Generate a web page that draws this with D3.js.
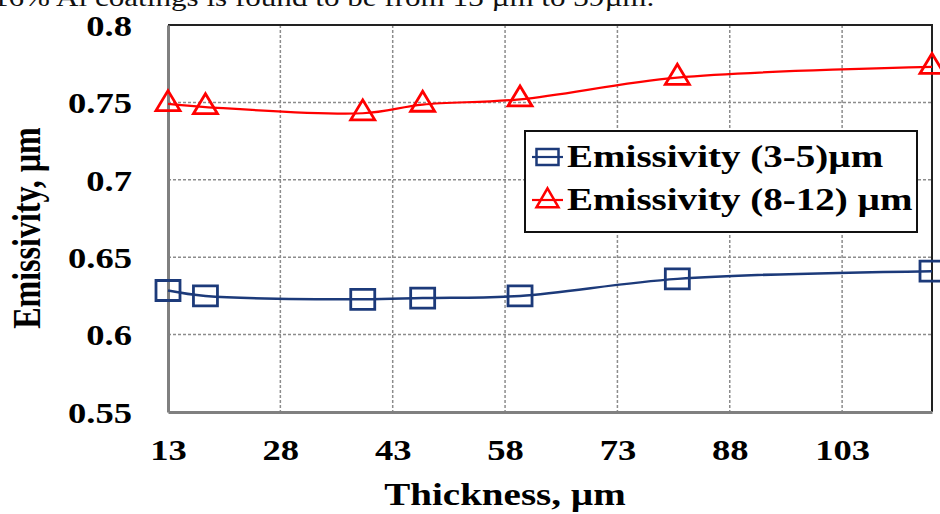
<!DOCTYPE html>
<html>
<head>
<meta charset="utf-8">
<script src="https://cdn.jsdelivr.net/npm/d3@7"></script>
<style>
  html, body { margin: 0; padding: 0; background: #fff; }
  svg { display: block; }
</style>
</head>
<body>
<svg id="chart"></svg>
<script>
var thickness = [13, 18, 39, 47, 60, 81, 115],
  emis35 = [0.6285, 0.625, 0.6228, 0.6236, 0.625, 0.636, 0.641],
  emis812 = [0.749, 0.747, 0.743, 0.7486, 0.752, 0.766, 0.773],
  xTicks = [13, 28, 43, 58, 73, 88, 103],
  yTicks = [0.55, 0.6, 0.65, 0.7, 0.75, 0.8],
  seriesNames = ['Emissivity (3-5)\u00b5m', 'Emissivity (8-12) \u00b5m'];

var width = 940,
  height = 514,
  margin = { top: 25, right: 8, bottom: 102, left: 168 },
  stretch = 1.22, // the picture is widened, text too
  blue = '#1c3a7a',
  red = '#ff0000',
  serif = '"Liberation Serif", "Times New Roman", serif';

var svg = d3.select('#chart').attr('width', width).attr('height', height);

var x = d3.scaleLinear().domain([13, 115]).range([margin.left, width - margin.right]),
  y = d3.scaleLinear().domain([0.55, 0.8]).range([height - margin.bottom, margin.top]);

// cut-off line of body text above the figure
svg.append('text')
  .attr('transform', 'translate(-7, 6) scale(' + stretch + ',1)')
  .attr('font-family', serif)
  .attr('font-size', 25.5)
  .attr('fill', '#111')
  .text('16% Al coatings is found to be from 13 \u00b5m to 39\u00b5m.');

// grid
var grid = svg.append('g')
  .attr('stroke', '#8c8c8c')
  .attr('stroke-width', 1.5)
  .attr('stroke-dasharray', '3,2');

grid.selectAll('line.v')
  .data(xTicks.slice(1))
  .enter()
  .append('line')
  .attr('x1', (d) => x(d)).attr('x2', (d) => x(d))
  .attr('y1', y(0.8)).attr('y2', y(0.55));

grid.selectAll('line.h')
  .data(yTicks.slice(1, -1))
  .enter()
  .append('line')
  .attr('x1', x(13)).attr('x2', x(115))
  .attr('y1', (d) => y(d)).attr('y2', (d) => y(d));

// top and right border
svg.append('path')
  .attr('d', 'M' + x(13) + ',' + y(0.8) + 'H' + x(115) + 'V' + y(0.55))
  .attr('fill', 'none')
  .attr('stroke', '#222')
  .attr('stroke-width', 2);

// axes
var yAxis = d3.axisLeft(y).tickValues(yTicks).tickSize(0)
  .tickFormat((d) => String(+d.toFixed(2)));
var xAxis = d3.axisBottom(x).tickValues(xTicks).tickSize(0);

var gy = svg.append('g').attr('transform', 'translate(' + margin.left + ',0)').call(yAxis);
var gx = svg.append('g').attr('transform', 'translate(0,' + y(0.55) + ')').call(xAxis);

[gx, gy].forEach(function (g) {
  g.select('.domain').attr('stroke', '#808080').attr('stroke-width', 3);
  g.selectAll('text')
    .attr('font-family', serif)
    .attr('font-weight', 'bold')
    .attr('font-size', 30)
    .attr('fill', '#000');
});

gy.selectAll('text')
  .attr('x', -36 / stretch)
  .attr('dy', '0.34em')
  .attr('transform', 'scale(' + stretch + ',1)');

gx.selectAll('text')
  .attr('y', 48)
  .attr('dy', 0)
  .attr('transform', 'scale(' + stretch + ',1)');

// axis titles
svg.append('text')
  .attr('transform', 'translate(40,228) rotate(-90) scale(1,' + stretch + ')')
  .attr('text-anchor', 'middle')
  .attr('font-family', serif)
  .attr('font-weight', 'bold')
  .attr('font-size', 32)
  .text('Emissivity, \u00b5m');

svg.append('text')
  .attr('transform', 'translate(505,505) scale(' + stretch + ',1)')
  .attr('text-anchor', 'middle')
  .attr('font-family', serif)
  .attr('font-weight', 'bold')
  .attr('font-size', 32)
  .text('Thickness, \u00b5m');

// series
var line = d3.line()
  .x((d) => x(d[0]))
  .y((d) => y(d[1]))
  .curve(d3.curveCatmullRom.alpha(0.5));

var series = [
  { name: seriesNames[0], color: blue, shape: 'square', values: d3.zip(thickness, emis35) },
  { name: seriesNames[1], color: red, shape: 'triangle', values: d3.zip(thickness, emis812) }
];

function marker(shape, w, h) {
  if (shape === 'square') {
    return 'M' + (-w / 2) + ',' + (-h / 2) + 'h' + w + 'v' + h + 'h' + (-w) + 'Z';
  }
  return 'M0,' + (-h * 2 / 3) + 'L' + (w / 2) + ',' + (h / 3) + 'L' + (-w / 2) + ',' + (h / 3) + 'Z';
}

series.forEach(function (s) {
  svg.append('path')
    .datum(s.values)
    .attr('d', line)
    .attr('fill', 'none')
    .attr('stroke', s.color)
    .attr('stroke-width', s.shape === 'square' ? 2.5 : 2.2);

  svg.selectAll(null)
    .data(s.values)
    .enter()
    .append('path')
    .attr('transform', (d) => 'translate(' + x(d[0]) + ',' + y(d[1]) + ')')
    .attr('d', marker(s.shape, 24, 20))
    .attr('fill', 'none')
    .attr('stroke', s.color)
    .attr('stroke-width', 2.8);
});

// legend
var legend = svg.append('g');
legend.append('rect')
  .attr('x', 525).attr('y', 131)
  .attr('width', 392).attr('height', 101)
  .attr('fill', '#fff')
  .attr('stroke', '#111')
  .attr('stroke-width', 2);

series.forEach(function (s, i) {
  var cy = 157 + i * 43;
  legend.append('line')
    .attr('x1', 532).attr('x2', 563)
    .attr('y1', cy).attr('y2', cy)
    .attr('stroke', s.color)
    .attr('stroke-width', 2.2);
  legend.append('path')
    .attr('transform', 'translate(547.5,' + (cy + (s.shape === 'square' ? 0 : 1)) + ')')
    .attr('d', marker(s.shape, 22, s.shape === 'square' ? 16 : 19))
    .attr('fill', 'none')
    .attr('stroke', s.color)
    .attr('stroke-width', 2.5);
  legend.append('text')
    .attr('transform', 'translate(567,' + (cy + 10) + ') scale(' + stretch + ',1)')
    .attr('font-family', serif)
    .attr('font-weight', 'bold')
    .attr('font-size', 32)
    .text(s.name);
});
</script>
</body>
</html>
